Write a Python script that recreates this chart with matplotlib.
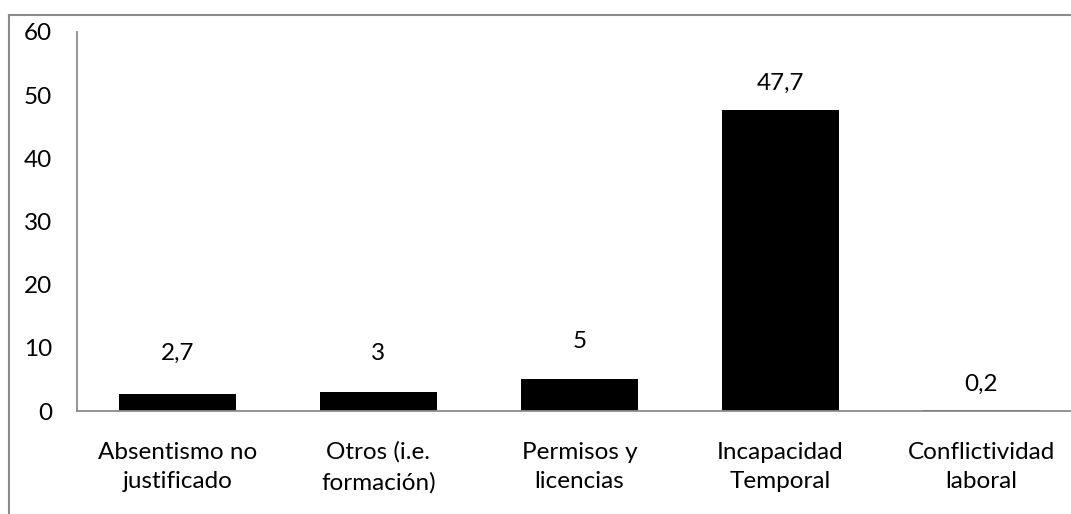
import matplotlib
matplotlib.use("Agg")
import matplotlib.pyplot as plt
from matplotlib.lines import Line2D

categories = ["Absentismo no\njustificado", "Otros (i.e.\nformación)", "Permisos y\nlicencias",
              "Incapacidad\nTemporal", "Conflictividad\nlaboral"]
values = [2.7, 3, 5, 47.7, 0.2]
value_labels = ["2,7", "3", "5", "47,7", "0,2"]
yticks = [0, 10, 20, 30, 40, 50, 60]

plt.rcParams['font.family'] = ['Lato', 'DejaVu Sans']
FS = 17.5
W, H = 1071, 514
fig = plt.figure(figsize=(W/100, H/100), dpi=100)
x0, x1 = 77, 1082
ytop, ybot = 32, 411
ax = fig.add_axes([x0/W, 1 - ybot/H, (x1 - x0)/W, (ybot - ytop)/H])
xs = list(range(len(values)))
ax.bar(xs, values, width=0.58, color='black')
ax.set_xlim(-0.5, len(values) - 0.5)
ax.set_ylim(0, 60)
ax.set_yticks(yticks)
ax.set_yticklabels([str(t) for t in yticks], fontsize=FS)
ax.set_xticks(xs)
ax.set_xticklabels(categories, fontsize=FS, linespacing=1.5)
ax.tick_params(axis='both', length=0)
ax.tick_params(axis='y', pad=18)
ax.tick_params(axis='x', pad=22)
for s in ['top', 'right']:
    ax.spines[s].set_visible(False)
for s in ['left', 'bottom']:
    ax.spines[s].set_color('#8c8c8c')
    ax.spines[s].set_linewidth(1.3)

# label offsets (points) above each bar, as placed in the reference
label_offsets = [29, 28, 27, 19, 18]
for x, v, lab, off in zip(xs, values, value_labels, label_offsets):
    ax.annotate(lab, (x, v), xytext=(0, off), textcoords='offset points',
                ha='center', va='center', fontsize=FS)

# outer frame (top and left visible)
fig.add_artist(Line2D([9/W, 9/W], [0, 1 - 15/H], color='#8c8c8c', lw=1.5, transform=fig.transFigure))
fig.add_artist(Line2D([9/W, 1], [1 - 15/H, 1 - 15/H], color='#8c8c8c', lw=1.5, transform=fig.transFigure))
fig.savefig("out.png", dpi=100)
